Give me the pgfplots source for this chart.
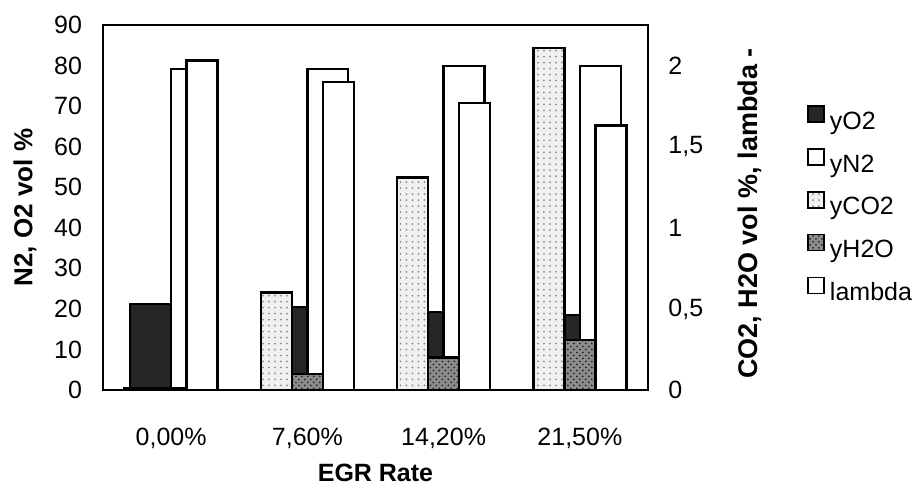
\documentclass[border=0pt]{standalone}
\usepackage{fontspec}
\setmainfont{Liberation Sans}
\usepackage{pgfplots}
\pgfplotsset{compat=1.18}
\usetikzlibrary{patterns}

\pgfplotstableread{
x O2 N2 CO2 H2O lambda
0 21.2 79.2 0.01 0.01 2.03
1 20.4 79.2 0.60 0.10 1.90
2 19.2 79.9 1.31 0.20 1.77
3 18.5 79.9 2.11 0.31 1.63
}\datatable

\begin{document}
\begin{tikzpicture}[font=\fontsize{12.5bp}{15bp}\selectfont]
\path[use as bounding box] (-51.5bp,-48.5bp) rectangle (408bp,195bp);
\pgfplotsset{
  sq/.style={legend image code/.code={\draw[##1,line width=0.8bp] (0bp,0.5bp) rectangle (8bp,8.5bp);}},
  base/.style={
    scale only axis, width=272.5bp, height=182.5bp,
    at={(0,0)}, anchor=south west,
    xmin=-0.5, xmax=3.5,
    ybar,
    major tick length=0pt,
    tick style={draw=none},
    axis line style={line width=0.6bp},
    /pgf/number format/assume math mode=true,
  },
  o2/.style={fill=black!85, draw=black, line width=1.2bp, sq},
  n2/.style={fill=white, draw=black, line width=1.2bp, sq},
  co2/.style={fill=black!6, draw=black, line width=1.2bp, postaction={pattern=dots, pattern color=black!45}, sq},
  h2o/.style={fill=black!45, draw=black, line width=1.2bp, postaction={pattern=crosshatch dots, pattern color=black!85}, sq},
  lam/.style={fill=white, draw=black, line width=1.2bp, sq},
}
\begin{axis}[base,
  ymin=0, ymax=90, ytick={0,10,...,90},
  yticklabel style={xshift=-7bp},
  xtick={0,1,2,3},
  xticklabels={{0,00\%},{7,60\%},{14,20\%},{21,50\%}},
  xticklabel style={yshift=-15.5bp},
  xlabel={\bfseries EGR Rate},
  xlabel style={at={(axis description cs:0.5,0)}, anchor=center, yshift=-41.5bp},
  ylabel={\fontsize{13bp}{15bp}\selectfont\bfseries N2, O2 vol \%},
  ylabel style={at={(axis description cs:0,0.5)}, anchor=center, yshift=39bp},
]
\addplot[o2, bar width=0.3, bar shift=-0.15] table[x=x, y=O2] {\datatable};
\addplot[n2, bar width=0.3, bar shift=0.15] table[x=x, y=N2] {\datatable};
\end{axis}
\begin{axis}[base,
  ymin=0, ymax=2.25,
  ytick={0,0.5,1,1.5,2},
  yticklabels={0,{0,5},1,{1,5},2},
  yticklabel pos=right,
  yticklabel style={xshift=6.7bp},
  axis x line=none,
  axis y line*=right,
  ylabel={\fontsize{13.5bp}{15bp}\selectfont\bfseries CO2, H2O vol \%, lambda -},
  ylabel style={at={(axis description cs:1,0.5)}, anchor=center, yshift=-51bp, xshift=-3bp},
  legend style={at={(axis description cs:1,1)}, anchor=north west, xshift=79.5bp, yshift=-40bp,
    draw=none, fill=none, inner sep=0pt, row sep=6.5bp, legend cell align=left,
    nodes={text height=9bp, text depth=3bp, inner sep=0pt, inner xsep=2.5bp}},
]
\addlegendimage{o2}
\addlegendentry{yO2}
\addlegendimage{n2}
\addlegendentry{yN2}
\addplot[co2, bar width=0.2275, bar shift=-0.2275] table[x=x, y=CO2] {\datatable};
\addlegendentry{yCO2}
\addplot[h2o, bar width=0.2275, bar shift=0] table[x=x, y=H2O] {\datatable};
\addlegendentry{yH2O}
\addplot[lam, bar width=0.2275, bar shift=0.2275] table[x=x, y=lambda] {\datatable};
\addlegendentry{lambda}
\end{axis}
\end{tikzpicture}
\end{document}
